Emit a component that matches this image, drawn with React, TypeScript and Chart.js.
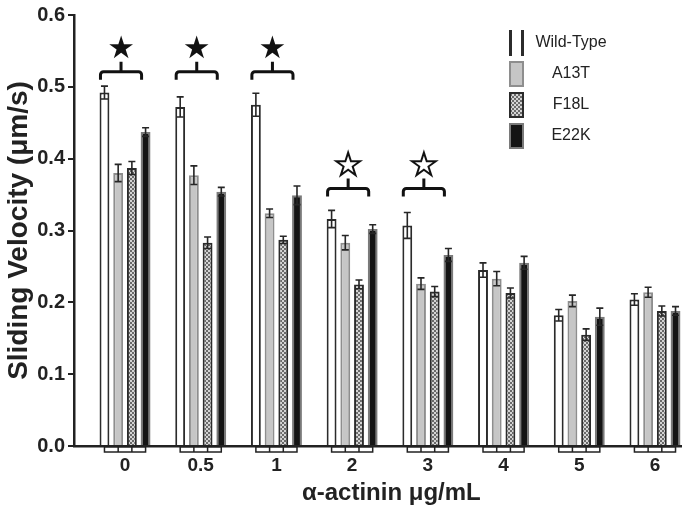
import React, { useEffect, useRef } from "react";
import { Chart, registerables } from "chart.js";

Chart.register(...registerables);

// ---- data ----
const doseLabels = ["0", "0.5", "1", "2", "3", "4", "5", "6"];
const seriesNames = ["Wild-Type", "A13T", "F18L", "E22K"];

const wildType = [0.492, 0.472, 0.475, 0.316, 0.307, 0.245, 0.182, 0.204];
const wildTypeErr = [0.009, 0.014, 0.016, 0.012, 0.018, 0.010, 0.008, 0.008];
const a13t = [0.380, 0.377, 0.324, 0.283, 0.226, 0.233, 0.202, 0.214];
const a13tErr = [0.012, 0.013, 0.006, 0.010, 0.008, 0.010, 0.008, 0.007];
const f18l = [0.387, 0.283, 0.287, 0.225, 0.215, 0.213, 0.155, 0.188];
const f18lErr = [0.009, 0.008, 0.005, 0.006, 0.007, 0.007, 0.008, 0.007];
const e22k = [0.437, 0.354, 0.349, 0.302, 0.266, 0.255, 0.180, 0.188];
const e22kErr = [0.006, 0.006, 0.013, 0.006, 0.009, 0.009, 0.012, 0.006];

// filled = strongly significant, hollow = significant
const significanceMarks = ["filled", "filled", "filled", "hollow", "hollow", "", "", ""];
const bracketLevels = [0.521, 0.521, 0.521, 0.3585, 0.3585, null, null, null];

const yMin = 0;
const yMax = 0.6;
const yStep = 0.1;

const yTitle = "Sliding Velocity (μm/s)";
const xTitle = "α-actinin μg/mL";

function makeCheckerPattern(ctx: CanvasRenderingContext2D) {
  const c = document.createElement("canvas");
  c.width = 4;
  c.height = 4;
  const p = c.getContext("2d")!;
  p.fillStyle = "#d4d4d4";
  p.fillRect(0, 0, 4, 4);
  p.fillStyle = "#6a6a6a";
  p.fillRect(0, 0, 2, 2);
  p.fillRect(2, 2, 2, 2);
  return ctx.createPattern(c, "repeat")!;
}

export default function App() {
  const canvasRef = useRef<HTMLCanvasElement | null>(null);

  useEffect(() => {
    const canvas = canvasRef.current!;
    const ctx = canvas.getContext("2d")!;
    const checker = makeCheckerPattern(ctx);

    const values = [wildType, a13t, f18l, e22k];
    const errors = [wildTypeErr, a13tErr, f18lErr, e22kErr];
    const fills: any[] = ["#ffffff", "#c6c6c6", checker, "#141414"];
    const borders = ["#2b2b2b", "#8e8e8e", "#2b2b2b", "#7a7a7a"];

    const overlayPlugin = {
      id: "overlay",
      afterDatasetsDraw(chart: any) {
        const c = chart.ctx as CanvasRenderingContext2D;
        const ys = chart.scales.y;
        c.save();
        // error bars
        c.strokeStyle = "#262626";
        c.lineWidth = 1.6;
        values.forEach((arr, d) => {
          const meta = chart.getDatasetMeta(d);
          meta.data.forEach((el: any, i: number) => {
            const x = el.x;
            const top = ys.getPixelForValue(arr[i] + errors[d][i]);
            const bot = ys.getPixelForValue(arr[i] - errors[d][i]);
            const cap = 3.5;
            c.beginPath();
            c.moveTo(x, top);
            c.lineTo(x, bot);
            c.moveTo(x - cap, top);
            c.lineTo(x + cap, top);
            c.moveTo(x - cap, bot);
            c.lineTo(x + cap, bot);
            c.stroke();
          });
        });
        // boxes below the axis
        const base = ys.getPixelForValue(0);
        doseLabels.forEach((_, i) => {
          const xs = [0, 1, 2, 3].map((d) => chart.getDatasetMeta(d).data[i].x);
          c.fillStyle = "#ffffff";
          c.fillRect(xs[0], base + 1, xs[3] - xs[0], 5);
          c.strokeStyle = "#222";
          c.lineWidth = 1.5;
          c.strokeRect(xs[0], base + 1, xs[3] - xs[0], 5);
          c.beginPath();
          c.moveTo(xs[1], base + 1);
          c.lineTo(xs[1], base + 6);
          c.moveTo(xs[2], base + 1);
          c.lineTo(xs[2], base + 6);
          c.stroke();
        });
        // brackets and stars
        doseLabels.forEach((_, i) => {
          const lvl = bracketLevels[i];
          if (lvl == null) return;
          const left = chart.getDatasetMeta(0).data[i].x - 4;
          const right = chart.getDatasetMeta(3).data[i].x - 4;
          const cx = (left + right) / 2;
          const y = ys.getPixelForValue(lvl);
          c.strokeStyle = "#111";
          c.lineWidth = 3;
          c.beginPath();
          c.moveTo(left, y + 8);
          c.lineTo(left, y + 3);
          c.arcTo(left, y, left + 3, y, 3);
          c.lineTo(right - 3, y);
          c.arcTo(right, y, right, y + 3, 3);
          c.lineTo(right, y + 8);
          c.moveTo(cx, y);
          c.lineTo(cx, y - 10);
          c.stroke();
          c.font = "31px 'DejaVu Sans'";
          c.textAlign = "center";
          c.textBaseline = "middle";
          if (significanceMarks[i] === "filled") {
            c.fillStyle = "#111";
            c.fillText("★", cx, y - 22);
          } else if (significanceMarks[i] === "hollow") {
            c.fillStyle = "#ffffff";
            c.fillText("★", cx, y - 22);
            c.strokeStyle = "#111";
            c.lineWidth = 2;
            c.lineJoin = "miter";
            c.strokeText("★", cx, y - 22);
          }
        });
        c.restore();
      },
      afterDraw(chart: any) {
        const c = chart.ctx as CanvasRenderingContext2D;
        c.save();
        const sx = 509;
        const sw = 15;
        const sh = 26;
        seriesNames.forEach((name, d) => {
          const top = 30 + d * 31;
          if (d === 0) {
            c.fillStyle = "#ffffff";
            c.fillRect(sx, top, sw, sh);
            c.fillStyle = "#2b2b2b";
            c.fillRect(sx, top, 3, sh);
            c.fillRect(sx + sw - 3, top, 3, sh);
          } else {
            c.fillStyle = borders[d];
            c.fillRect(sx, top, sw, sh);
            c.fillStyle = fills[d];
            c.fillRect(sx + 2, top + 2, sw - 4, sh - 4);
          }
          c.fillStyle = "#222";
          c.font = "16px 'Liberation Sans', Arial, sans-serif";
          c.textAlign = "center";
          c.textBaseline = "middle";
          c.fillText(name, 571, top + sh / 2);
        });
        c.restore();
      },
    };

    const chart = new Chart(canvas, {
      type: "bar",
      data: {
        datasets: seriesNames.map((name, d) => ({
          label: name,
          data: values[d].map((v, i) => ({ x: i, y: v })),
          backgroundColor: fills[d],
          borderColor: borders[d],
          borderWidth: 2,
          barPercentage: 0.72,
          categoryPercentage: 0.724,
        })),
      },
      options: {
        responsive: false,
        animation: false,
        devicePixelRatio: 1,
        layout: { padding: { top: 9, left: 0, right: 0, bottom: 0 } },
        plugins: {
          legend: { display: false },
          tooltip: { enabled: false },
        },
        scales: {
          x: {
            type: "linear",
            min: -0.674,
            max: 7.357,
            offset: false,
            z: 1,
            grid: { display: false, offset: false, drawTicks: false },
            border: { display: true, color: "#222", width: 2.5 },
            afterBuildTicks: (scale: any) => {
              scale.ticks = doseLabels.map((_, i) => ({ value: i }));
            },
            afterFit: (scale: any) => {
              scale.height = 65;
            },
            ticks: {
              autoSkip: false,
              maxRotation: 0,
              padding: 8,
              color: "#222",
              font: { family: "'Liberation Sans', Arial, sans-serif", size: 19, weight: "bold" },
              callback: (v: any) => doseLabels[Math.round(Number(v))] ?? "",
            },
            title: {
              display: true,
              text: "    " + xTitle,
              color: "#222",
              font: { family: "'Liberation Sans', Arial, sans-serif", size: 24, weight: "bold" },
              padding: { top: 0, bottom: 3 },
            },
          },
          y: {
            min: yMin,
            max: yMax,
            grid: {
              display: true,
              drawOnChartArea: false,
              drawTicks: true,
              tickLength: 6,
              color: "#222",
              lineWidth: 2,
            },
            border: { display: true, color: "#222", width: 2.5 },
            afterFit: (scale: any) => {
              scale.width = 74;
            },
            ticks: {
              stepSize: yStep,
              padding: 3,
              color: "#222",
              font: { family: "'Liberation Sans', Arial, sans-serif", size: 20, weight: "bold" },
              callback: (v: any) => Number(v).toFixed(1),
            },
            title: {
              display: true,
              text: yTitle,
              color: "#222",
              font: { family: "'Liberation Sans', Arial, sans-serif", size: 28, weight: "bold" },
              padding: { top: 2, bottom: 0 },
            },
          },
        },
      },
      plugins: [overlayPlugin],
    } as any);

    return () => chart.destroy();
  }, []);

  return (
    <div style={{ position: "fixed", left: 0, top: 0, width: 682, height: 511, background: "#fff" }}>
      <canvas ref={canvasRef} width={682} height={511} />
    </div>
  );
}
